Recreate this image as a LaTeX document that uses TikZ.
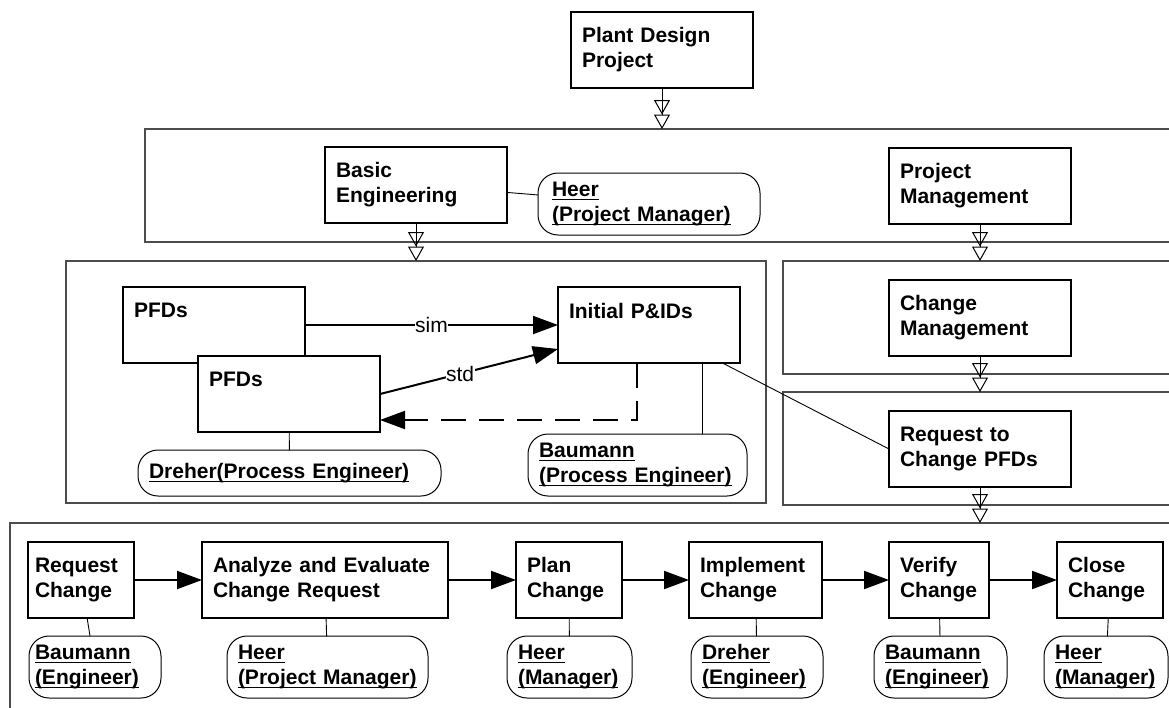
\documentclass[tikz,border=0pt]{standalone}
\usepackage{fontspec}
\setmainfont{Liberation Sans}
\usetikzlibrary{arrows.meta}

\newcommand{\uname}[1]{\leavevmode\setbox0\hbox{#1}\rlap{\rule[-3.5pt]{\wd0}{1.3pt}}\box0}

\begin{document}
\begin{tikzpicture}[x=1pt,y=-1pt,
    every node/.style={font=\bfseries\fontsize{21pt}{25pt}\selectfont, outer sep=0pt, anchor=north west},
    task/.style={draw, line width=1.1pt, fill=white, align=left, text width=160pt, inner xsep=11pt, minimum height=76pt},
    role/.style={draw, line width=1pt, rounded corners=20pt, fill=white, align=left, inner xsep=11pt, minimum height=62pt},
    group/.style={draw=black!70, line width=1.2pt},
    link/.style={line width=0.9pt},
    flow/.style={line width=2pt, -{Triangle[length=25pt,width=18pt]}},
    refine/.style={line width=1pt, -{Triangle[open,length=14.5pt,width=16pt,sep=0pt]Triangle[open,length=14.5pt,width=16pt,sep=0pt]}},
    tag/.style={font=\fontsize{21pt}{25pt}\selectfont, fill=white, inner sep=0.5pt, anchor=center}]
    \useasboundingbox (0,0) rectangle (1169,707);
    \clip (0,0) rectangle (1169,707);

    % groups, cut off at the page edge
    \draw[group] (145,129) rectangle (1190,242);
    \draw[group] (66,261) rectangle (766,503);
    \draw[group] (783,261) rectangle (1190,374);
    \draw[group] (783,392) rectangle (1190,505);
    \draw[group] (10,523) rectangle (1190,730);
    \coordinate (top1) at (0,129);
    \coordinate (top2) at (0,261);
    \coordinate (top3) at (0,392);
    \coordinate (top4) at (0,523);

    \node[task] (plant) at (571,12) {Plant Design\\Project};
    \node[task] (basic) at (325,147) {Basic\\Engineering};
    \node[role, text width=194pt, inner xsep=14pt] (heerpm) at (538,173) {\uname{Heer}\\\uname{(Project Manager)}};
    \node[task] (projmgmt) at (889,148) {Project\\Management};

    \node[task, text depth=29pt] (pfd1) at (123,287) {PFDs};
    \node[task, text depth=29pt] (pfd2) at (198,356) {PFDs};
    \node[task, text depth=29pt] (pids) at (558,287) {Initial P\&IDs};
    \node[role, text width=281pt, minimum height=46pt] (dreherpe) at (138,450) {\uname{Dreher(Process Engineer)}};
    \node[role, text width=197pt] (baumannpe) at (528,434) {\uname{Baumann}\\\uname{(Process Engineer)}};
    \node[task] (changemgmt) at (889,280) {Change\\Management};
    \node[task] (request) at (889,411) {Request to\\Change PFDs};

    \node[task, text width=92pt, inner xsep=7pt] (reqchange) at (28,542) {Request\\Change};
    \node[task, text width=224pt] (analyze) at (202,542) {Analyze and Evaluate\\Change Request};
    \node[task, text width=84pt] (plan) at (516,542) {Plan\\Change};
    \node[task, text width=111pt] (implement) at (689,542) {Implement\\Change};
    \node[task, text width=78pt] (verify) at (889,542) {Verify\\Change};
    \node[task, text width=84pt] (close) at (1057,542) {Close\\Change};
    \node[role, text width=120pt, inner xsep=6pt] (baumann1) at (29,636) {\uname{Baumann}\\\uname{(Engineer)}};
    \node[role, text width=179pt] (heer1) at (227,636) {\uname{Heer}\\\uname{(Project Manager)}};
    \node[role, text width=103pt] (heer2) at (507,636) {\uname{Heer}\\\uname{(Manager)}};
    \node[role, text width=110pt] (dreher) at (691,636) {\uname{Dreher}\\\uname{(Engineer)}};
    \node[role, text width=111pt] (baumann2) at (874,636) {\uname{Baumann}\\\uname{(Engineer)}};
    \node[role, text width=102pt] (heer3) at (1044,636) {\uname{Heer}\\\uname{(Manager)}};

    \draw[refine] (plant) -- (plant |- top1);
    \draw[refine] (basic) -- (basic |- top2);
    \draw[refine] (projmgmt) -- (projmgmt |- top2);
    \draw[refine] (changemgmt) -- (changemgmt |- top3);
    \draw[refine] (request) -- (request |- top4);

    \draw[flow] (pfd1) -- (pids) node[tag, midway] {sim};
    \draw[flow] (pfd2.east) -- ([yshift=-24pt]pids.west) node[tag, pos=0.45] {std};
    \draw[flow, dash pattern=on 25pt off 13pt] ([xshift=-12.5pt]pids.south) |- ([yshift=-26pt]pfd2.east);
    \draw[link] (pids) -- (request.west);

    \draw[link] (basic) -- (heerpm);
    \draw[link] (pfd2) -- (dreherpe);
    \draw[link] ([xshift=53.5pt]pids.south) -- ([xshift=53.5pt]pids.south |- baumannpe.north);

    \draw[flow] (reqchange) -- (analyze);
    \draw[flow] (analyze) -- (plan);
    \draw[flow] (plan) -- (implement);
    \draw[flow] (implement) -- (verify);
    \draw[flow] (verify) -- (close);
    \draw[link] (reqchange) -- (baumann1);
    \draw[link] (analyze) -- (heer1);
    \draw[link] (plan) -- (heer2);
    \draw[link] (implement) -- (dreher);
    \draw[link] (verify) -- (baumann2);
    \draw[link] (close) -- (heer3);
\end{tikzpicture}
\end{document}
